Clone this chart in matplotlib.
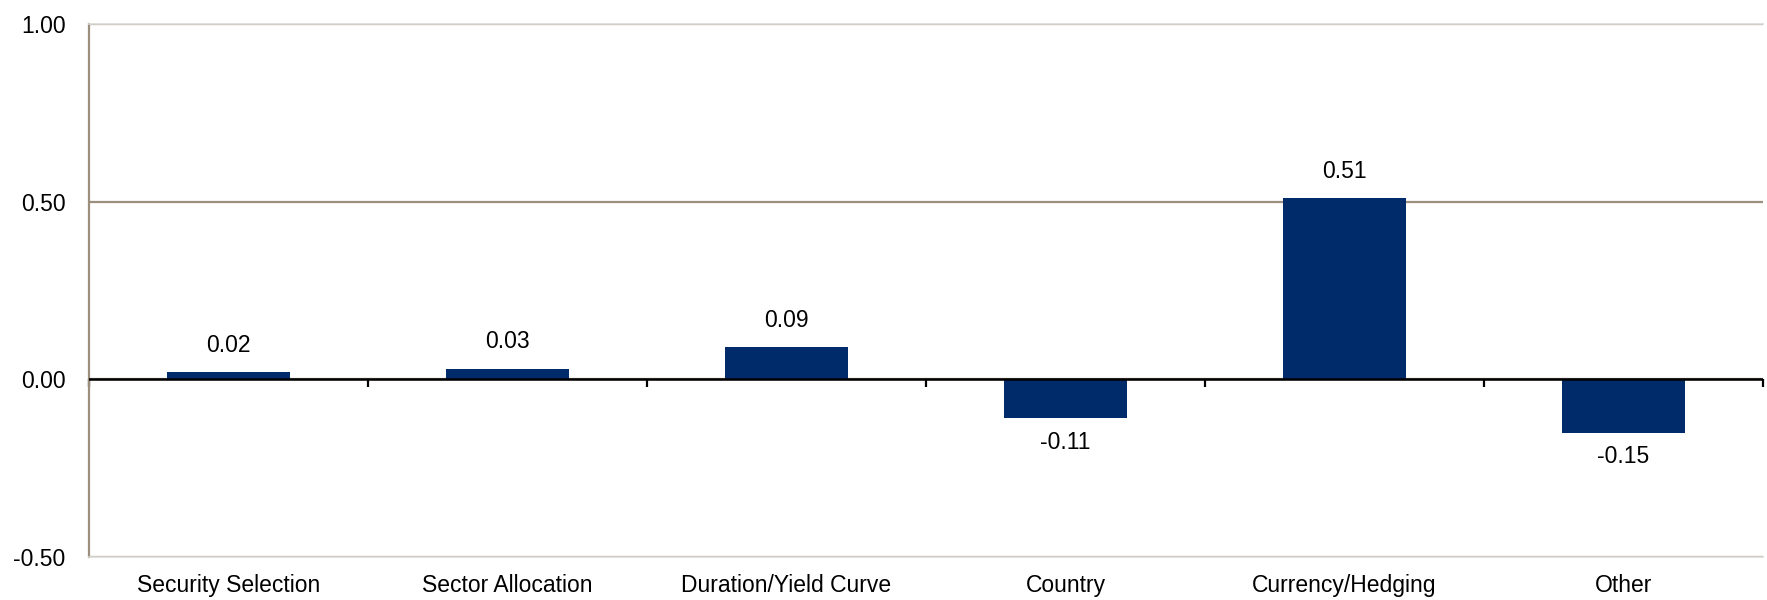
import matplotlib.pyplot as plt
import numpy as np

categories = ["Security Selection", "Sector Allocation", "Duration/Yield Curve",
              "Country", "Currency/Hedging", "Other"]
values = [0.02, 0.03, 0.09, -0.11, 0.51, -0.15]
ytick_values = [-0.50, 0.00, 0.50, 1.00]

plt.rcParams['font.family'] = ['Liberation Sans', 'DejaVu Sans']

bar_color = "#002B6B"
brown = "#9C8F7E"
light = "#DCDAD6"
fsize = 16.5

fig = plt.figure(figsize=(17.67, 6), dpi=100)
ax = fig.add_axes([0.0504, 0.0717, 0.9473, 0.8883])

x = np.arange(len(categories))
bars = ax.bar(x, values, width=0.444, color=bar_color, zorder=3)

ax.set_xlim(-0.5, len(categories) - 0.5)
ax.set_ylim(ytick_values[0], ytick_values[-1])
ax.set_yticks(ytick_values)
ax.set_yticklabels(["%.2f" % v for v in ytick_values])
ax.tick_params(axis='y', length=0, pad=17, labelsize=fsize)

# category labels sit under the frame, no tick marks there
ax.set_xticks(x)
ax.set_xticklabels(categories)
ax.tick_params(axis='x', length=0, pad=12, labelsize=fsize)

# horizontal gridlines
ax.yaxis.grid(True, color=brown, lw=1.6, zorder=0)
ax.set_axisbelow(True)

for side in ["top", "bottom"]:
    ax.spines[side].set_color(light)
    ax.spines[side].set_linewidth(1.2)
    ax.spines[side].set_zorder(4)
ax.spines["right"].set_visible(False)
ax.spines["left"].set_color(brown)
ax.spines["left"].set_linewidth(1.6)

# zero line with category separators
zero_frac = (0 - ytick_values[0]) / (ytick_values[-1] - ytick_values[0])
zero_axis = ax.secondary_xaxis(zero_frac)
zero_axis.set_xticks(np.arange(len(categories) + 1) - 0.5)
zero_axis.set_xticklabels([])
zero_axis.tick_params(length=6, width=1.6, color="black", direction="out")
ax.axhline(0, color="black", lw=1.8, zorder=5)

# value labels
for bar, v in zip(bars, values):
    cx = bar.get_x() + bar.get_width() / 2
    if v >= 0:
        ax.annotate("%.2f" % v, (cx, v), xytext=(0, 11), textcoords="offset points",
                    ha="center", va="bottom", fontsize=fsize)
    else:
        ax.annotate("%.2f" % v, (cx, v), xytext=(0, -9), textcoords="offset points",
                    ha="center", va="top", fontsize=fsize)

fig.savefig("out.png", dpi=100)
